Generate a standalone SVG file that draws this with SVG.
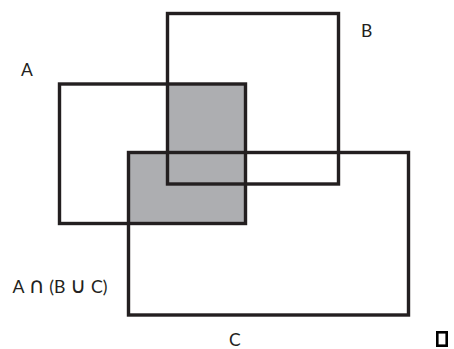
<svg xmlns="http://www.w3.org/2000/svg" width="454" height="349" viewBox="0 0 454 349">
  <style>
    .set { fill: none; stroke: #231f20; stroke-width: 3.4; }
    .shade { fill: #adaeb1; stroke: none; }
    .lbl { font-family: "Lato", "DejaVu Sans", sans-serif; font-size: 17.5px; fill: #231f20; }
    .sym { font-family: "DejaVu Sans", sans-serif; font-size: 22px; }
  </style>
  <rect width="454" height="349" fill="#ffffff"/>

  <!-- shaded region: A ∩ (B ∪ C) -->
  <g id="region-a-and-b-or-c">
    <path class="shade" d="M167.5 84 H245.5 V223.5 H128.5 V152.5 H167.5 Z"/>
  </g>

  <!-- set outlines -->
  <g id="set-a">
    <rect class="set" x="59.5" y="84" width="186" height="139.5"/>
    <text class="lbl" x="21" y="76">A</text>
  </g>
  <g id="set-b">
    <rect class="set" x="167.5" y="13.5" width="171" height="170.5"/>
    <text class="lbl" x="361" y="37">B</text>
  </g>
  <g id="set-c">
    <rect class="set" x="128.5" y="152.5" width="280" height="162.5"/>
    <text class="lbl" x="229" y="346">C</text>
  </g>

  <g id="caption">
    <text class="lbl" x="12.5" y="293" textLength="95" lengthAdjust="spacingAndGlyphs">A <tspan class="sym">∩</tspan> (B <tspan class="sym">∪</tspan> C)</text>
  </g>

  <!-- small box at bottom right -->
  <g id="box">
    <rect x="437.3" y="332.3" width="9.4" height="13.4" fill="none" stroke="#000000" stroke-width="2.6"/>
  </g>
</svg>
